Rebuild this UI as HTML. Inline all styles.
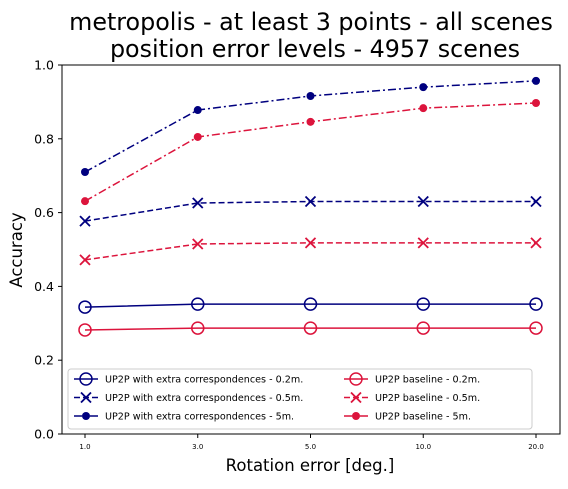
<!DOCTYPE html>
<html><head><meta charset="utf-8"><style>
body{margin:0;background:#fff;font-family:"Liberation Sans","DejaVu Sans",sans-serif;}
svg text{font-family:"DejaVu Sans","Liberation Sans",sans-serif;}
</style></head><body>
<svg id="chart" width="568" height="484" xmlns="http://www.w3.org/2000/svg">
<text x="311" y="30" text-anchor="middle" font-size="23.8">metropolis - at least 3 points - all scenes</text>
<text x="315" y="57" text-anchor="middle" font-size="23.8">position error levels - 4957 scenes</text>
<rect x="62" y="65" width="498" height="369" fill="none" stroke="#000" stroke-width="1"/>
<g id="yticks"></g><g id="xticks"></g><g id="series"></g>
<text x="310" y="471" text-anchor="middle" font-size="16.5">Rotation error [deg.]</text>
<text transform="translate(22,250) rotate(-90)" text-anchor="middle" font-size="16.5">Accuracy</text>
<g id="legend"></g>
</svg>
<script>
const categories=["1.0","3.0","5.0","10.0","20.0"];
const yTicks=[0,0.2,0.4,0.6,0.8,1.0];
const ex02=[0.344,0.352,0.352,0.352,0.352];
const ex05=[0.577,0.626,0.630,0.630,0.630];
const ex5=[0.710,0.878,0.916,0.940,0.957];
const bl02=[0.282,0.287,0.287,0.287,0.287];
const bl05=[0.472,0.515,0.518,0.518,0.518];
const bl5=[0.631,0.805,0.846,0.883,0.897];
const labels=["UP2P with extra correspondences - 0.2m.","UP2P with extra correspondences - 0.5m.","UP2P with extra correspondences - 5m.","UP2P baseline - 0.2m.","UP2P baseline - 0.5m.","UP2P baseline - 5m."];
const NS="http://www.w3.org/2000/svg";
const xs=i=>85+i*112.75;
const ys=v=>434-v*369;
function mk(t,a,p){const e=document.createElementNS(NS,t);for(const k in a)e.setAttribute(k,a[k]);p.appendChild(e);return e;}
const yt=document.getElementById('yticks');
yTicks.forEach(v=>{const y=ys(v);
 const l=mk('line',{x1:58,x2:62,y1:y,y2:y,stroke:'#000'},yt);
 
 
 const t=mk('text',{x:54,y:y+4.5,'text-anchor':'end','font-size':12.5},yt);t.textContent=v.toFixed(1);
 
 });
const xt=document.getElementById('xticks');
categories.forEach((c,i)=>{const x=xs(i);
 const l=mk('line',{x1:x,x2:x,y1:434,y2:438,stroke:'#000'},xt);
 
 
 const t=mk('text',{x:x,y:449,'text-anchor':'middle','font-size':7},xt);t.textContent=c;
 
 });
const N='#00007f',R='#dc143c';
const defs=[[ex02,N,'','o'],[ex05,N,'6,3','x'],[ex5,N,'8,3,2,3','d'],[bl02,R,'','o'],[bl05,R,'6,3','x'],[bl5,R,'8,3,2,3','d']];
function marker(g,x,y,col,m){
 if(m==='o')mk('circle',{cx:x,cy:y,r:6,fill:'none',stroke:col,'stroke-width':1.5},g);
 else if(m==='d')mk('circle',{cx:x,cy:y,r:4,fill:col},g);
 else{mk('path',{d:`M${x-5} ${y-5}L${x+5} ${y+5}M${x-5} ${y+5}L${x+5} ${y-5}`,stroke:col,'stroke-width':1.8},g);}
}
const sg=document.getElementById('series');
defs.forEach((d,k)=>{const g=mk('g',{},sg);
 
 
 mk('polyline',{points:d[0].map((v,i)=>xs(i)+','+ys(v)).join(' '),fill:'none',stroke:d[1],'stroke-width':1.5,'stroke-dasharray':d[2]},g);
 d[0].forEach((v,i)=>marker(g,xs(i),ys(v),d[1],d[3]));});
const lg=document.getElementById('legend');
mk('rect',{x:68,y:369,width:464,height:60,rx:3,fill:'#fff','fill-opacity':0.8,stroke:'#ccc'},lg);
defs.forEach((d,k)=>{const col=k<3?0:1;const row=k%3;
 const x0=col?344:74,y=379+row*18.5;
 const g=mk('g',{},lg);
 
 
 mk('line',{x1:x0,x2:x0+24,y1:y,y2:y,stroke:d[1],'stroke-width':1.5,'stroke-dasharray':d[2]},g);
 marker(g,x0+12,y,d[1],d[3]);
 const t=mk('text',{x:x0+31,y:y+3.5,'font-size':9.6},g);t.textContent=labels[k];});
</script>
</body></html>
